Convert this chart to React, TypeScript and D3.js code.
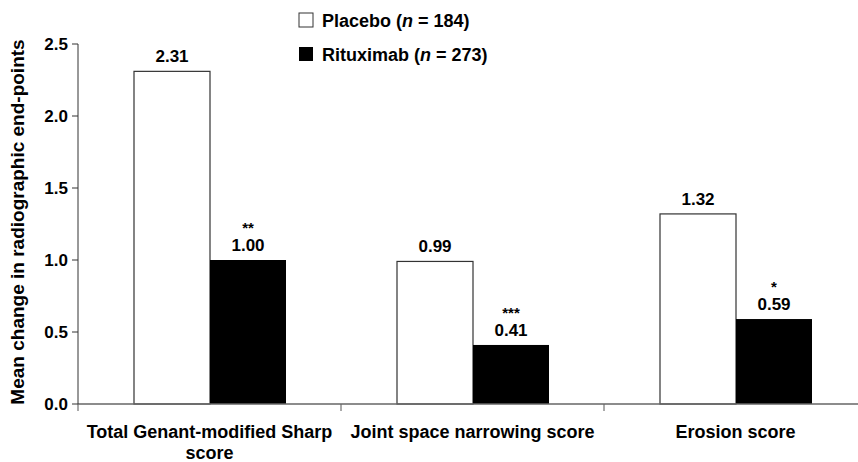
import React from "react";
import * as d3 from "d3";

const categories = ["Total Genant-modified Sharp score", "Joint space narrowing score", "Erosion score"];
const catLines = [["Total Genant-modified Sharp", "score"], ["Joint space narrowing score"], ["Erosion score"]];
const placebo = [2.31, 0.99, 1.32];
const rituximab = [1.0, 0.41, 0.59];
const stars = ["**", "***", "*"];
const yTicks = [0, 0.5, 1.0, 1.5, 2.0, 2.5];

const W = 858, H = 462;
const left = 78, groupW = 263, top = 44, bottom = 404;
const font = "'Liberation Sans', Arial, sans-serif";

export default function App() {
  const x = d3.scaleBand().domain(categories).range([left, left + groupW * 3]);
  const y = d3.scaleLinear().domain([0, 2.5]).range([bottom, top]);
  const barW = 76, off = 56;
  return (
    <svg width={W} height={H} style={{ position: "absolute", left: 0, top: 0 }} fontFamily={font} fontWeight="bold">
      {categories.map((c, i) => {
        const gx = x(c)!;
        const px = gx + off, rx = gx + off + barW;
        return (
          <g key={c}>
            <rect x={px} y={y(placebo[i])} width={barW} height={bottom - y(placebo[i])} fill="#fff" stroke="#333" strokeWidth={1.2} />
            <rect x={rx} y={y(rituximab[i])} width={barW} height={bottom - y(rituximab[i])} fill="#000" />
            <text x={px + barW / 2} y={y(placebo[i]) - 9} textAnchor="middle" fontSize={17}>{placebo[i].toFixed(2)}</text>
            <text x={rx + barW / 2} y={y(rituximab[i]) - 9} textAnchor="middle" fontSize={17}>{rituximab[i].toFixed(2)}</text>
            <text x={rx + barW / 2} y={y(rituximab[i]) - 27} textAnchor="middle" fontSize={15}>{stars[i]}</text>
            {catLines[i].map((l, j) => (
              <text key={j} x={gx + groupW / 2} y={438 + j * 21} textAnchor="middle" fontSize={18}>{l}</text>
            ))}
            <line x1={gx} x2={gx} y1={bottom} y2={bottom + 7} stroke="#555" />
          </g>
        );
      })}
      <line x1={left} x2={W} y1={bottom} y2={bottom} stroke="#666" strokeWidth={1.5} />
      <line x1={left} x2={left} y1={top} y2={bottom} stroke="#333" />
      {yTicks.map((t) => (
        <g key={t}>
          <line x1={left - 6} x2={left} y1={y(t)} y2={y(t)} stroke="#333" />
          <text x={left - 10} y={y(t) + 6} textAnchor="end" fontSize={17}>{t.toFixed(1)}</text>
        </g>
      ))}
      <text transform={`translate(24,${(top + bottom) / 2 - 2}) rotate(-90)`} textAnchor="middle" fontSize={19}>
        Mean change in radiographic end-points
      </text>
      <rect x={299} y={13} width={14} height={14} fill="#fff" stroke="#333" />
      <text x={322} y={27} fontSize={18}>Placebo (<tspan fontStyle="italic">n</tspan> = 184)</text>
      <rect x={299} y={47} width={14} height={14} fill="#000" />
      <text x={322} y={61} fontSize={18}>Rituximab (<tspan fontStyle="italic">n</tspan> = 273)</text>
    </svg>
  );
}
